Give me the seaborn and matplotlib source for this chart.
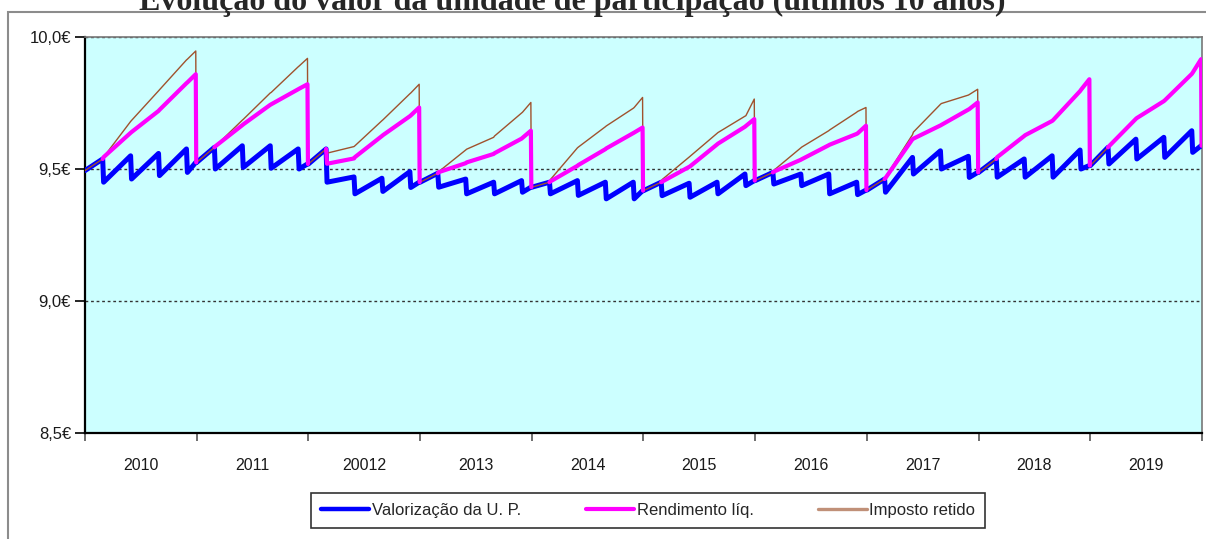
import numpy as np
import pandas as pd
import matplotlib
matplotlib.use("Agg")
import matplotlib.pyplot as plt
import seaborn as sns
from matplotlib.lines import Line2D
from matplotlib.patches import Rectangle

# ---------------- data ----------------
anos = [2010, 2011, 2012, 2013, 2014, 2015, 2016, 2017, 2018, 2019]
rotulos_anos = ["2010", "2011", "20012", "2013", "2014", "2015", "2016", "2017", "2018", "2019"]
# month offsets (within each year) of the recorded points
meses = [0, 1.9, 2.0, 4.9, 5.0, 7.9, 8.0, 10.9, 11.0, 11.9, 11.95]

valorizacao = [
    [9.494, 9.538, 9.450, 9.550, 9.462, 9.559, 9.475, 9.576, 9.487, 9.525, 9.525],
    [9.525, 9.582, 9.500, 9.588, 9.506, 9.588, 9.503, 9.576, 9.500, 9.519, 9.519],
    [9.519, 9.576, 9.450, 9.470, 9.406, 9.465, 9.415, 9.490, 9.430, 9.450, 9.450],
    [9.450, 9.484, 9.431, 9.462, 9.406, 9.450, 9.406, 9.456, 9.412, 9.431, 9.431],
    [9.431, 9.450, 9.406, 9.456, 9.400, 9.450, 9.387, 9.450, 9.387, 9.418, 9.418],
    [9.418, 9.450, 9.399, 9.446, 9.393, 9.450, 9.406, 9.481, 9.437, 9.456, 9.456],
    [9.456, 9.487, 9.443, 9.481, 9.437, 9.481, 9.406, 9.450, 9.403, 9.420, 9.420],
    [9.420, 9.462, 9.412, 9.544, 9.481, 9.569, 9.500, 9.548, 9.468, 9.487, 9.487],
    [9.487, 9.538, 9.469, 9.538, 9.469, 9.550, 9.469, 9.572, 9.500, 9.513, 9.513],
    [9.513, 9.582, 9.519, 9.613, 9.538, 9.620, 9.544, 9.645, 9.563, 9.588, 9.588],
]

nan = np.nan
rendimento = [
    [nan, 9.538, 9.545, 9.637, 9.640, 9.720, 9.724, 9.825, 9.828, 9.859, 9.525],
    [nan, 9.582, 9.586, 9.666, 9.669, 9.743, 9.745, 9.802, 9.804, 9.821, 9.519],
    [nan, 9.576, 9.520, 9.540, 9.545, 9.625, 9.628, 9.700, 9.703, 9.733, 9.450],
    [nan, 9.484, 9.488, 9.522, 9.525, 9.557, 9.560, 9.615, 9.618, 9.645, 9.431],
    [nan, 9.450, 9.453, 9.512, 9.515, 9.575, 9.578, 9.636, 9.638, 9.657, 9.418],
    [nan, 9.450, 9.452, 9.508, 9.510, 9.593, 9.596, 9.660, 9.663, 9.689, 9.456],
    [nan, 9.487, 9.490, 9.535, 9.537, 9.590, 9.592, 9.633, 9.635, 9.664, 9.420],
    [nan, 9.462, 9.466, 9.613, 9.615, 9.665, 9.667, 9.725, 9.727, 9.752, 9.487],
    [nan, 9.538, 9.545, 9.625, 9.628, 9.682, 9.685, 9.795, 9.800, 9.840, 9.513],
    [nan, 9.582, 9.586, 9.690, 9.693, 9.757, 9.760, 9.860, 9.865, 9.916, 9.588],
]

imposto = [
    [9.494, 9.538, 9.545, 9.680, 9.684, 9.796, 9.800, 9.913, 9.916, 9.947, 9.525],
    [9.525, 9.582, 9.586, 9.685, 9.688, 9.788, 9.790, 9.887, 9.890, 9.919, 9.519],
    [9.519, 9.576, 9.560, 9.585, 9.588, 9.683, 9.686, 9.785, 9.788, 9.821, 9.450],
    [9.450, 9.484, 9.490, 9.572, 9.575, 9.620, 9.625, 9.712, 9.715, 9.752, 9.431],
    [9.431, 9.450, 9.460, 9.580, 9.583, 9.660, 9.663, 9.730, 9.733, 9.771, 9.418],
    [9.418, 9.450, 9.460, 9.545, 9.548, 9.635, 9.638, 9.700, 9.702, 9.765, 9.456],
    [9.456, 9.487, 9.495, 9.580, 9.583, 9.645, 9.648, 9.715, 9.718, 9.733, 9.420],
    [9.420, 9.462, 9.470, 9.630, 9.640, 9.745, 9.748, 9.780, 9.782, 9.802, 9.487],
    [9.487, 9.538, 9.545, 9.625, 9.628, 9.682, 9.685, 9.795, 9.800, 9.840, 9.513],
    [9.513, 9.582, 9.586, 9.690, 9.693, 9.757, 9.760, 9.860, 9.865, 9.916, 9.588],
]

y_ticks = [8.5, 9.0, 9.5, 10.0]
y_tick_labels = ["8,5€", "9,0€", "9,5€", "10,0€"]
series_names = ["Valorização da U. P.", "Rendimento líq.", "Imposto retido"]
titulo = "Evolução do valor da unidade de participação (últimos 10 anos)"

# ---------------- table ----------------
rows = []
for i, ano in enumerate(anos):
    for j, m in enumerate(meses):
        rows.append({"ano": ano, "t": 12 * i + m,
                     "valorizacao": valorizacao[i][j],
                     "rendimento": rendimento[i][j],
                     "imposto": imposto[i][j]})
df = pd.DataFrame(rows)

# ---------------- style ----------------
sns.set_theme(style="white")
plt.rcParams["font.family"] = ["Liberation Sans", "DejaVu Sans"]

W, H = 1206, 539
fig = plt.figure(figsize=(W / 100, H / 100), dpi=100)
fig.patch.set_facecolor("white")

# outer chart frame
fig.add_artist(Rectangle((8 / W, -0.2), 1.2, 1.2 - 12 / H, transform=fig.transFigure,
                         fill=False, edgecolor="#8c8c8c", lw=1.5, zorder=0))

ax = fig.add_axes([85 / W, 1 - 433 / H, (1202 - 85) / W, (433 - 37) / H])
ax.set_facecolor("#CCFFFF")

blue = "#0000FF"
magenta = "#FF00FF"
brown = "#A0522D"

sns.lineplot(data=df, x="t", y="valorizacao", color=blue, lw=3.6, ax=ax,
             estimator=None, sort=False, zorder=3)
sns.lineplot(data=df, x="t", y="imposto", color=brown, lw=1.0, ax=ax,
             estimator=None, sort=False, zorder=4)
sns.lineplot(data=df.dropna(subset=["rendimento"]), x="t", y="rendimento", units="ano",
             color=magenta, lw=3.0, ax=ax, estimator=None, sort=False, zorder=5)

ax.set_xlim(0, 12 * len(anos))
ax.set_ylim(8.5, 10.0)
ax.set_xlabel("")
ax.set_ylabel("")

ax.set_yticks(y_ticks)
ax.set_yticklabels(y_tick_labels)
ax.set_xticks(np.arange(0, 12 * len(anos) + 1, 12))
ax.set_xticklabels([])
ax.set_xticks(np.arange(6, 12 * len(anos), 12), minor=True)
ax.set_xticklabels(rotulos_anos, minor=True)

ax.tick_params(axis="y", which="major", direction="out", length=7, width=1.2, color="black",
               labelsize=12, pad=3, labelcolor="#1a1a1a", left=True)
ax.tick_params(axis="x", which="major", direction="out", length=6, width=1.2, color="#555555",
               bottom=True)
ax.tick_params(axis="x", which="minor", length=0, labelsize=11.5, pad=18, labelcolor="#1a1a1a")

ax.yaxis.grid(True, linestyle=(0, (2, 2)), color="#333333", lw=1.0)
ax.xaxis.grid(False)
ax.set_axisbelow(True)

for side in ["left", "bottom"]:
    ax.spines[side].set_color("black")
    ax.spines[side].set_linewidth(1.6)
for side in ["top", "right"]:
    ax.spines[side].set_color("#777777")
    ax.spines[side].set_linewidth(1.2)

# title (partly cut off at the top, as in the original)
fig.text(572 / W, 1 - 10 / H, titulo, ha="center", va="baseline", fontsize=23,
         fontweight="bold", family=["Liberation Serif", "DejaVu Serif"])

handles = [Line2D([0], [0], color=blue, lw=3.2),
           Line2D([0], [0], color=magenta, lw=3.0),
           Line2D([0], [0], color="#C09078", lw=2.4)]
leg = fig.legend(handles, series_names, loc="center", bbox_to_anchor=(648 / W, 1 - 510.5 / H),
                 ncol=3, frameon=True, fancybox=False, edgecolor="black", fontsize=12,
                 handlelength=2.9, handletextpad=0.15, columnspacing=3.9, borderpad=0.6,
                 borderaxespad=0)
leg.get_frame().set_linewidth(1.2)

fig.savefig("out.png", dpi=100)
